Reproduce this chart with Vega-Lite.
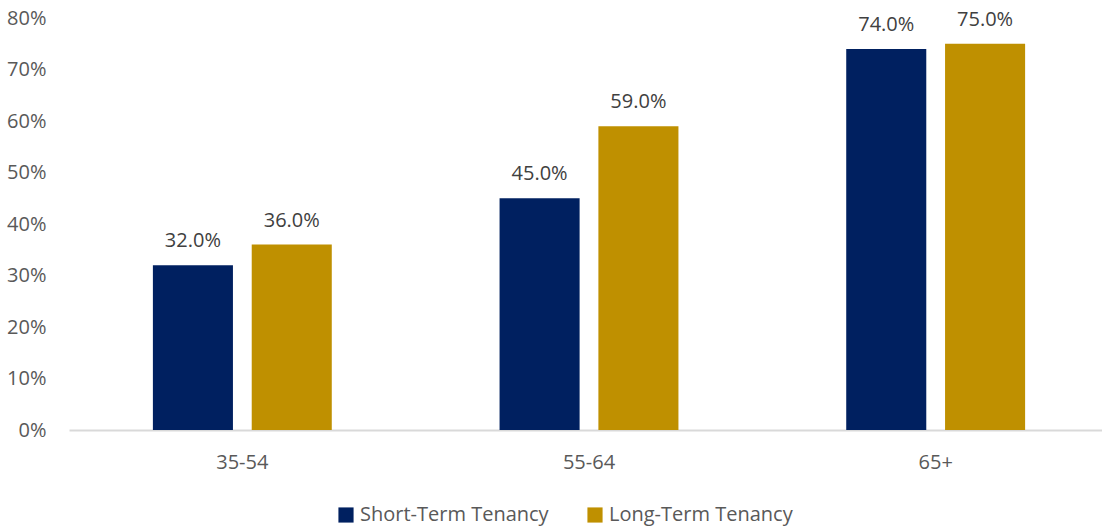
{
  "$schema": "https://vega.github.io/schema/vega-lite/v6.json",
  "width": 1040,
  "height": 412,
  "autosize": {"type": "none"},
  "padding": {"left": 69, "top": 18, "right": 0, "bottom": 97},
  "background": "white",
  "config": {
    "font": "Open Sans",
    "view": {"stroke": null}
  },
  "data": {
    "values": [
      {"age": "35-54", "tenancy": "Short-Term Tenancy", "value": 0.32},
      {"age": "35-54", "tenancy": "Long-Term Tenancy", "value": 0.36},
      {"age": "55-64", "tenancy": "Short-Term Tenancy", "value": 0.45},
      {"age": "55-64", "tenancy": "Long-Term Tenancy", "value": 0.59},
      {"age": "65+", "tenancy": "Short-Term Tenancy", "value": 0.74},
      {"age": "65+", "tenancy": "Long-Term Tenancy", "value": 0.75}
    ]
  },
  "encoding": {
    "x": {
      "field": "age", "type": "nominal", "sort": null, "title": null,
      "scale": {"paddingInner": 0.484, "paddingOuter": 0.242},
      "axis": {"labelAngle": 0, "labelFontSize": 20, "labelColor": "#595959", "labelPadding": 22, "ticks": false, "domainColor": "#d9d9d9", "domainWidth": 2}
    },
    "xOffset": {
      "field": "tenancy", "type": "nominal", "sort": ["Short-Term Tenancy", "Long-Term Tenancy"],
      "scale": {"paddingInner": 0.19, "paddingOuter": 0}
    },
    "y": {
      "field": "value", "type": "quantitative", "title": null,
      "scale": {"domain": [0, 0.8], "nice": false},
      "axis": {"format": ".0%", "values": [0, 0.1, 0.2, 0.3, 0.4, 0.5, 0.6, 0.7, 0.8], "grid": false, "domain": false, "ticks": false, "labelFontSize": 20, "labelColor": "#595959", "labelPadding": 23}
    }
  },
  "layer": [
    {
      "mark": {"type": "bar"},
      "encoding": {
        "color": {
          "field": "tenancy", "type": "nominal", "title": null,
          "sort": ["Short-Term Tenancy", "Long-Term Tenancy"],
          "scale": {"domain": ["Short-Term Tenancy", "Long-Term Tenancy"], "range": ["#002060", "#BF9000"]},
          "legend": {"orient": "none", "legendX": 267, "legendY": 487, "direction": "horizontal", "symbolType": "square", "symbolSize": 230, "symbolStrokeWidth": 0, "labelFontSize": 20, "labelColor": "#595959", "columnPadding": 36, "labelOffset": 4, "labelLimit": 400}
        }
      }
    },
    {
      "mark": {"type": "text", "dy": -24, "fontSize": 20, "color": "#404040"},
      "encoding": {
        "text": {"field": "value", "type": "quantitative", "format": ".1%"}
      }
    }
  ]
}
